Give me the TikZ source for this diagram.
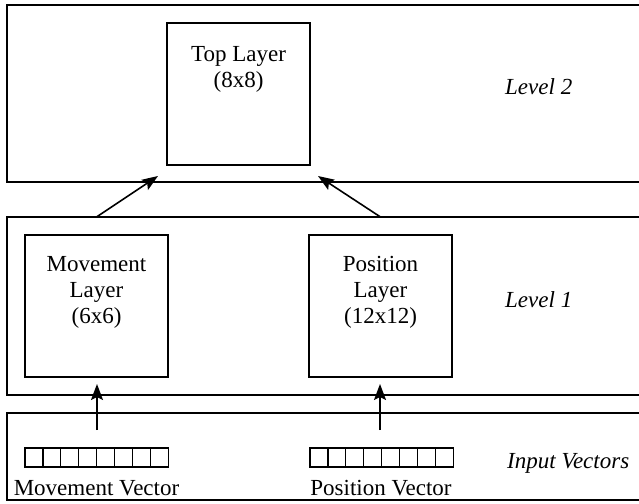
\documentclass[tikz,border=0pt]{standalone}
\usepackage{fontspec}
\setmainfont{Liberation Serif}
\usetikzlibrary{arrows.meta}
\begin{document}
\begin{tikzpicture}[x=1pt,y=-1pt,
  frame/.style={draw, line width=1.8pt, anchor=north west, inner sep=0pt, outer sep=0pt},
  layerbox/.style={draw, line width=1.8pt, minimum width=143pt, minimum height=142pt, anchor=north west, inner sep=0pt, outer sep=0pt},
  txt/.style={font=\fontsize{23}{26}\selectfont, inner sep=0pt, outer sep=0pt, align=center},
  lvl/.style={font=\fontsize{23}{26}\selectfont\itshape, inner sep=0pt, anchor=base west},
  cell/.style={draw, line width=1.3pt, minimum width=17.9pt, minimum height=19pt, inner sep=0pt, outer sep=0pt, anchor=north west},
  arr/.style={line width=1.6pt, -{Stealth[length=16pt,width=12pt,inset=3pt]}}]
\useasboundingbox (0,0) rectangle (639,503);
\clip (0,0) rectangle (639,503);
\fill[white] (0,0) rectangle (639,503);
% outer frames
\node[frame, minimum width=650pt, minimum height=177pt] (lev2) at (7,5) {};
\node[frame, minimum width=650pt, minimum height=178pt] (lev1) at (7,217) {};
\node[frame, minimum width=650pt, minimum height=87pt] (inp) at (7,413) {};
% layer boxes
\node[layerbox] (top) at (167,23) {};
\node[layerbox] (mov) at (25,235) {};
\node[layerbox] (pos) at (309,235) {};
% box texts (anchor=base gives the baseline of the last line)
\node[txt, anchor=base] (toptxt) at (238.5,87) {Top Layer\\(8x8)};
\node[txt, anchor=base] (movtxt) at (96.5,323) {Movement\\Layer\\(6x6)};
\node[txt, anchor=base] (postxt) at (380.5,323) {Position\\Layer\\(12x12)};
% level labels
\node[lvl] (l2) at (505,94) {Level 2};
\node[lvl] (l1) at (505,307) {Level 1};
\node[lvl] (iv) at (507,468) {Input Vectors};
% input vectors
\foreach \i in {0,...,7} {
  \node[cell] (mc\i) at ({25+\i*17.9},448) {};
  \node[cell] (pc\i) at ({310+\i*17.9},448) {};
}
\node[txt, anchor=base] (mvl) at (96.5,495) {Movement Vector};
\node[txt, anchor=base] (pvl) at (381,495) {Position Vector};
% arrows
\coordinate (a1e) at (158,176);
\coordinate (a2e) at (318,176);
\coordinate (a3s) at (97,430);
\coordinate (a3e) at (97,384);
\coordinate (a4s) at (380,430);
\coordinate (a4e) at (380,384);
\draw[arr] (mov.north |- lev1.north) -- (a1e);
\draw[arr] (pos.north |- lev1.north) -- (a2e);
\draw[arr] (a3s) -- (a3e);
\draw[arr] (a4s) -- (a4e);
\end{tikzpicture}
\end{document}
